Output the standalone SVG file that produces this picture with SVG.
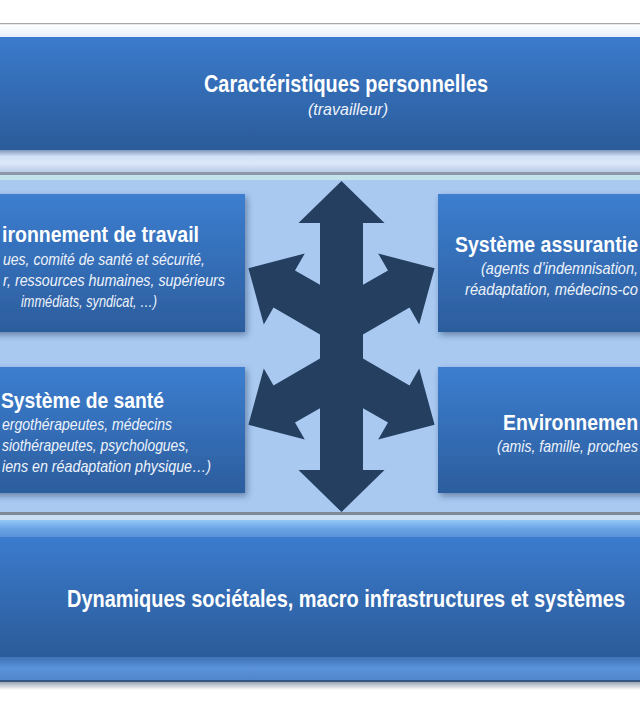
<svg xmlns="http://www.w3.org/2000/svg" width="640" height="716" viewBox="0 0 640 716">
  <defs>
    <linearGradient id="gBand" x1="0" y1="0" x2="0" y2="1">
      <stop offset="0" stop-color="#3b7bcd"/>
      <stop offset="1" stop-color="#2b5b99"/>
    </linearGradient>
    <linearGradient id="gBox" x1="0" y1="0" x2="0" y2="1">
      <stop offset="0" stop-color="#3c7ed0"/>
      <stop offset="1" stop-color="#2c5d9d"/>
    </linearGradient>
    <linearGradient id="gTopAbove" x1="0" y1="0" x2="0" y2="1">
      <stop offset="0" stop-color="#ffffff"/>
      <stop offset="1" stop-color="#e6f0fa"/>
    </linearGradient>
    <linearGradient id="gTopBelow" x1="0" y1="0" x2="0" y2="1">
      <stop offset="0" stop-color="#7f98bd"/>
      <stop offset="0.3" stop-color="#d3e2f7"/>
      <stop offset="0.6" stop-color="#dce8fa"/>
      <stop offset="1" stop-color="#b9cbe6"/>
    </linearGradient>
    <linearGradient id="gRimTop" x1="0" y1="0" x2="0" y2="1">
      <stop offset="0" stop-color="#93c8f6"/>
      <stop offset="0.5" stop-color="#6aa5e6"/>
      <stop offset="1" stop-color="#5a92d8"/>
    </linearGradient>
    <linearGradient id="gRimBot" x1="0" y1="0" x2="0" y2="1">
      <stop offset="0" stop-color="#3f72b6"/>
      <stop offset="0.5" stop-color="#5b93da"/>
      <stop offset="1" stop-color="#4f86cc"/>
    </linearGradient>
    <linearGradient id="gShadowBot" x1="0" y1="0" x2="0" y2="1">
      <stop offset="0" stop-color="#9aa6b4"/>
      <stop offset="1" stop-color="#ffffff"/>
    </linearGradient>
    <filter id="shadow" x="-10%" y="-10%" width="125%" height="130%">
      <feDropShadow dx="2" dy="3" stdDeviation="3" flood-color="#1b2f4d" flood-opacity="0.45"/>
    </filter>
    <style>
      .title { font-family: 'Liberation Sans Narrow','Liberation Sans',Arial,sans-serif; font-weight: bold; fill: #ffffff; }
      .sub { font-family: 'Liberation Sans Narrow','Liberation Sans',Arial,sans-serif; font-style: italic; fill: #eef3fb; }
      .box { fill: url(#gBox); filter: url(#shadow); }
    </style>
  </defs>

  <!-- background -->
  <rect x="0" y="0" width="640" height="716" fill="#ffffff"/>
  <rect x="0" y="23" width="640" height="1.5" fill="#a8a8a8"/>
  <rect x="0" y="24.5" width="640" height="12.5" fill="url(#gTopAbove)"/>
  <rect x="0" y="150" width="640" height="22" fill="url(#gTopBelow)"/>
  <rect x="0" y="172" width="640" height="3" fill="#8a98a9"/>
  <rect x="0" y="175" width="640" height="338" fill="#a9c9f1"/>
  <rect x="0" y="175" width="640" height="5" fill="#c4e2ea"/>
  <rect x="0" y="512" width="640" height="3" fill="#7e8a98"/>
  <rect x="0" y="515" width="640" height="5" fill="#c9def2"/>

  <g id="node-caracteristiques">
    <rect x="0" y="37" width="640" height="113" fill="url(#gBand)"/>
    <text class="title" x="346" y="92" font-size="23.5" text-anchor="middle" textLength="284" lengthAdjust="spacingAndGlyphs">Caractéristiques personnelles</text>
    <text class="sub" x="348" y="115" font-size="17" text-anchor="middle" textLength="80" lengthAdjust="spacingAndGlyphs">(travailleur)</text>
  </g>

  <g id="node-environnement-travail">
    <rect class="box" x="-70" y="194" width="315" height="138"/>
    <text class="title" x="199" y="242" font-size="22.5" text-anchor="end" textLength="197" lengthAdjust="spacingAndGlyphs">ironnement de travail</text>
    <text class="sub" x="205" y="265" font-size="16.5" text-anchor="end" textLength="202" lengthAdjust="spacingAndGlyphs">ues, comité de santé et sécurité,</text>
    <text class="sub" x="225" y="286" font-size="16.5" text-anchor="end" textLength="222" lengthAdjust="spacingAndGlyphs">r, ressources humaines, supérieurs</text>
    <text class="sub" x="21" y="307" font-size="16.5" textLength="136" lengthAdjust="spacingAndGlyphs">immédiats, syndicat, …)</text>
  </g>

  <g id="node-systeme-assurantiel">
    <rect class="box" x="438" y="194" width="280" height="138"/>
    <text class="title" x="455" y="252" font-size="22.5" textLength="183" lengthAdjust="spacingAndGlyphs">Système assurantie</text>
    <text class="sub" x="481" y="274" font-size="16.5" textLength="157" lengthAdjust="spacingAndGlyphs">(agents d’indemnisation,</text>
    <text class="sub" x="465" y="295" font-size="16.5" textLength="173" lengthAdjust="spacingAndGlyphs">réadaptation, médecins-co</text>
  </g>

  <g id="node-systeme-sante">
    <rect class="box" x="-70" y="367" width="315" height="126"/>
    <text class="title" x="164" y="408" font-size="22.5" text-anchor="end" textLength="163" lengthAdjust="spacingAndGlyphs">Système de santé</text>
    <text class="sub" x="172" y="430" font-size="16.5" text-anchor="end" textLength="170" lengthAdjust="spacingAndGlyphs">ergothérapeutes, médecins</text>
    <text class="sub" x="189" y="451" font-size="16.5" text-anchor="end" textLength="187" lengthAdjust="spacingAndGlyphs">siothérapeutes, psychologues,</text>
    <text class="sub" x="211" y="472" font-size="16.5" text-anchor="end" textLength="209" lengthAdjust="spacingAndGlyphs">iens en réadaptation physique…)</text>
  </g>

  <g id="node-environnement-social">
    <rect class="box" x="438" y="367" width="280" height="126"/>
    <text class="title" x="503" y="430" font-size="22.5" textLength="135" lengthAdjust="spacingAndGlyphs">Environnemen</text>
    <text class="sub" x="497" y="452" font-size="16.5" textLength="141" lengthAdjust="spacingAndGlyphs">(amis, famille, proches</text>
  </g>

  <g id="node-dynamiques">
    <rect x="0" y="520" width="640" height="17" fill="url(#gRimTop)"/>
    <rect x="0" y="537" width="640" height="120" fill="url(#gBand)"/>
    <rect x="0" y="657" width="640" height="23" fill="url(#gRimBot)"/>
    <rect x="0" y="680" width="640" height="2" fill="#34557f"/>
    <rect x="0" y="682" width="640" height="8" fill="url(#gShadowBot)"/>
    <text class="title" x="346" y="607" font-size="23.5" text-anchor="middle" textLength="558" lengthAdjust="spacingAndGlyphs">Dynamiques sociétales, macro infrastructures et systèmes</text>
  </g>

  <g id="connectors">
    <path fill="#243f60" d="M341.5,181 L384.5,223 L363,223 L363,284.8 L388,270.4 L378.2,253.5 L434.6,268.3 L419.2,324.5 L409.5,307.6 L363,334.4 L363,358.6 L409.5,385.4 L419.2,368.5 L434.6,424.7 L378.2,439.5 L388,422.6 L363,408.2 L363,470 L384.5,470 L341.5,512 L298.5,470 L320,470 L320,408.2 L295,422.6 L304.8,439.5 L248.4,424.7 L263.8,368.5 L273.5,385.4 L320,358.6 L320,334.4 L273.5,307.6 L263.8,324.5 L248.4,268.3 L304.8,253.5 L295,270.4 L320,284.8 L320,223 L298.5,223 Z"/>
  </g>
</svg>
